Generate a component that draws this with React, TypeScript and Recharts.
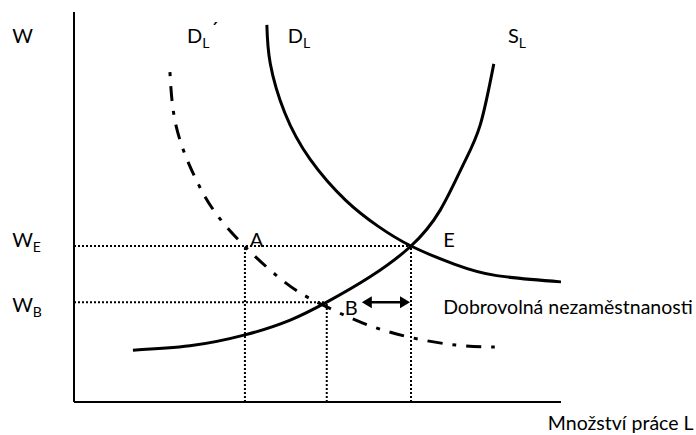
import { LineChart, Line, XAxis, YAxis, ReferenceLine, ReferenceDot } from 'recharts';

// labour market: wage W vs. quantity of labour L (chart units 0-100)
const SUPPLY_L = [12.1, 23.8, 35.1, 44.4, 51.9, 60.8, 69.2, 75.2, 79.9, 83.4, 86.2];
const SUPPLY_W = [13.3, 14.4, 17.2, 21.0, 25.6, 32.1, 40, 49.2, 60.8, 71, 86.7];
const DEMAND_L = [39.6, 40.3, 43.3, 48.5, 55.8, 62.4, 69.2, 78.2, 86.8, 100];
const DEMAND_W = [96.7, 86.8, 74.1, 62.2, 51.7, 45.1, 40, 35.3, 32.4, 30.8];
const DEMAND2_L = [19.7, 21.0, 25.0, 31.4, 42.4, 50.4, 59.2, 68.6, 78.4, 86.4];
const DEMAND2_W = [84.6, 70.6, 57.2, 44.8, 31.6, 25.3, 20.3, 16.7, 14.6, 14.1];

const POINT_E = { l: 69.2, w: 40 };
const POINT_A = { l: 35.1, w: 40 };
const POINT_B = { l: 51.9, w: 25.6 };
const ARROW_FROM = 59.1;

const LABELS = [
  { l: -12.7, w: 92.1, main: 'W' },
  { l: 23.2, w: 92.1, main: 'D', sub: 'L', prime: true },
  { l: 43.9, w: 92.1, main: 'D', sub: 'L' },
  { l: 89.1, w: 92.1, main: 'S', sub: 'L' },
  { l: -12.7, w: 39.7, main: 'W', sub: 'E' },
  { l: -12.7, w: 23.1, main: 'W', sub: 'B' },
  { l: 36.1, w: 39.7, main: 'A' },
  { l: 75.8, w: 39.7, main: 'E' },
  { l: 55.6, w: 22.3, main: 'B' },
  { l: 75.8, w: 22.6, main: 'Dobrovolná nezaměstnanosti', small: true },
  { l: 97.3, w: -7.2, main: 'Množství práce L', small: true },
];

const zip = (xs: number[], ys: number[]) => xs.map((l, i) => ({ l, w: ys[i] }));

const FONT = 'Lato, "Open Sans", sans-serif';

const Tag = (props: any) => {
  const { viewBox, main, sub, prime, small } = props;
  const x = viewBox.x + viewBox.width / 2;
  const y = viewBox.y + viewBox.height / 2;
  const size = small ? 19.5 : 20;
  return (
    <text x={x} y={y} fontFamily={FONT} fontSize={size} fill="#000">
      {main}
      {sub && (
        <tspan dy={5} fontSize={14}>
          {sub}
        </tspan>
      )}
      {prime && <tspan dy={-12} dx={1}>´</tspan>}
    </text>
  );
};

const Arrow = (p: any) => {
  const { x1, y1, x2 } = p;
  const y = y1;
  return (
    <g>
      <line x1={x1 + 8} y1={y} x2={x2 - 8} y2={y} stroke="#000" strokeWidth={2.5} />
      <polygon points={`${x1},${y} ${x1 + 10},${y - 6} ${x1 + 10},${y + 6}`} fill="#000" />
      <polygon points={`${x2},${y} ${x2 - 10},${y - 6} ${x2 - 10},${y + 6}`} fill="#000" />
    </g>
  );
};

const dotted = { stroke: '#000', strokeWidth: 2, strokeDasharray: '2 2' };
const axis = { stroke: '#000', strokeWidth: 2 };

export default function App() {
  return (
    <div style={{ position: 'absolute', left: 0, top: 0, background: '#fff' }}>
      <LineChart width={696} height={435} margin={{ top: 12, right: 135, bottom: 33, left: 74 }}>
        <XAxis dataKey="l" type="number" domain={[0, 100]} allowDataOverflow hide />
        <YAxis type="number" domain={[0, 100]} allowDataOverflow hide />
        <ReferenceLine segment={[{ x: 0, y: 0 }, { x: 100, y: 0 }]} {...axis} />
        <ReferenceLine segment={[{ x: 0, y: 0 }, { x: 0, y: 100 }]} {...axis} />
        <ReferenceLine segment={[{ x: 0, y: POINT_E.w }, { x: POINT_E.l, y: POINT_E.w }]} {...dotted} />
        <ReferenceLine segment={[{ x: 0, y: POINT_B.w }, { x: POINT_B.l, y: POINT_B.w }]} {...dotted} />
        <ReferenceLine segment={[{ x: POINT_A.l, y: 0 }, { x: POINT_A.l, y: POINT_A.w }]} {...dotted} />
        <ReferenceLine segment={[{ x: POINT_B.l, y: 0 }, { x: POINT_B.l, y: POINT_B.w }]} {...dotted} />
        <ReferenceLine segment={[{ x: POINT_E.l, y: 0 }, { x: POINT_E.l, y: POINT_E.w }]} {...dotted} />
        <Line
          data={zip(DEMAND2_L, DEMAND2_W)}
          dataKey="w"
          type="natural"
          stroke="#000"
          strokeWidth={3}
          strokeDasharray="4 10 15 10"
          dot={false}
          isAnimationActive={false}
        />
        <Line
          data={zip(DEMAND_L, DEMAND_W)}
          dataKey="w"
          type="natural"
          stroke="#000"
          strokeWidth={3}
          dot={false}
          isAnimationActive={false}
        />
        <Line
          data={zip(SUPPLY_L, SUPPLY_W)}
          dataKey="w"
          type="natural"
          stroke="#000"
          strokeWidth={3}
          dot={false}
          isAnimationActive={false}
        />
        <ReferenceLine
          segment={[{ x: ARROW_FROM, y: POINT_B.w }, { x: POINT_E.l - 0.2, y: POINT_B.w }]}
          shape={Arrow}
        />
        {LABELS.map((t, i) => (
          <ReferenceDot
            key={i}
            x={t.l}
            y={t.w}
            r={1}
            fill="none"
            stroke="none"
            ifOverflow="visible"
            label={<Tag main={t.main} sub={t.sub} prime={t.prime} small={t.small} />}
          />
        ))}
      </LineChart>
    </div>
  );
}
